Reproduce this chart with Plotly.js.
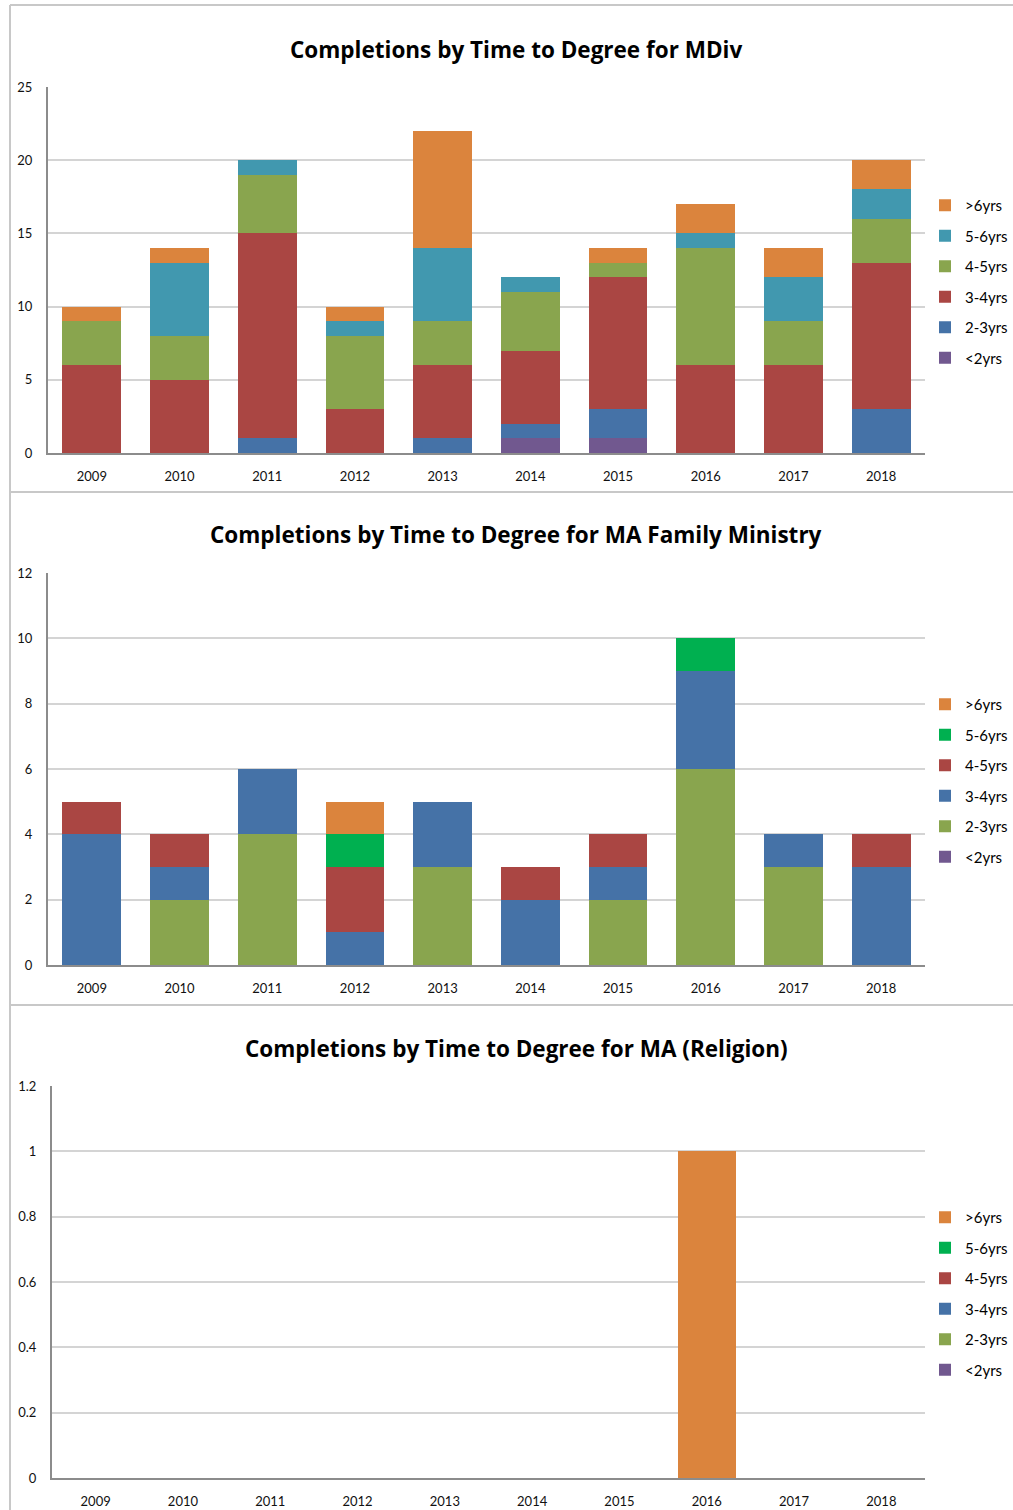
<!DOCTYPE html>
<html>
<head>
<meta charset="utf-8">
<script src="https://cdn.plot.ly/plotly-3.0.1.min.js"></script>
<style>html,body{margin:0;padding:0;background:#fff}#chart{width:1013px;height:1510px}</style>
</head>
<body>
<div id="chart"></div>
<script>
// ---- data ----
const years = ['2009','2010','2011','2012','2013','2014','2015','2016','2017','2018'];
const seriesNames = ['<2yrs','2-3yrs','3-4yrs','4-5yrs','5-6yrs','>6yrs'];

// Chart 1: MDiv
const mdivTitle = 'Completions by Time to Degree for MDiv';
const mdivLt2   = [0,0,0,0,0,1,1,0,0,0];
const mdiv2to3  = [0,0,1,0,1,1,2,0,0,3];
const mdiv3to4  = [6,5,14,3,5,5,9,6,6,10];
const mdiv4to5  = [3,3,4,5,3,4,1,8,3,3];
const mdiv5to6  = [0,5,1,1,5,1,0,1,3,2];
const mdivGt6   = [1,1,0,1,8,0,1,2,2,2];
const mdivYTicks = [0,5,10,15,20,25];

// Chart 2: MA Family Ministry
const famTitle = 'Completions by Time to Degree for MA Family Ministry';
const famLt2   = [0,0,0,0,0,0,0,0,0,0];
const fam2to3  = [0,2,4,0,3,0,2,6,3,0];
const fam3to4  = [4,1,2,1,2,2,1,3,1,3];
const fam4to5  = [1,1,0,2,0,1,1,0,0,1];
const fam5to6  = [0,0,0,1,0,0,0,1,0,0];
const famGt6   = [0,0,0,1,0,0,0,0,0,0];
const famYTicks = [0,2,4,6,8,10,12];

// Chart 3: MA (Religion)
const relTitle = 'Completions by Time to Degree for MA (Religion)';
const relLt2   = [0,0,0,0,0,0,0,0,0,0];
const rel2to3  = [0,0,0,0,0,0,0,0,0,0];
const rel3to4  = [0,0,0,0,0,0,0,0,0,0];
const rel4to5  = [0,0,0,0,0,0,0,0,0,0];
const rel5to6  = [0,0,0,0,0,0,0,0,0,0];
const relGt6   = [0,0,0,0,0,0,0,1,0,0];
const relYTicks = [0,0.2,0.4,0.6,0.8,1,1.2];
const relYTickText = ['0','0.2','0.4','0.6','0.8','1','1.2'];

// ---- styles ----
const colors1 = ['#71588F','#4572A7','#AA4643','#89A54E','#4198AF','#DB843D'];
const colors2 = ['#71588F','#89A54E','#4572A7','#AA4643','#00B050','#DB843D'];

const W = 1013, H = 1510;
const px = x => x / W;
const py = y => 1 - y / H;

const charts = [
  {title: mdivTitle, data: [mdivLt2,mdiv2to3,mdiv3to4,mdiv4to5,mdiv5to6,mdivGt6], colors: colors1,
   x0: 48, x1: 925, yTop: 87, yBot: 453, ticks: mdivYTicks, tickText: mdivYTicks.map(String), range: [0,25], titleY: 50, legTop: 189},
  {title: famTitle, data: [famLt2,fam2to3,fam3to4,fam4to5,fam5to6,famGt6], colors: colors2,
   x0: 48, x1: 925, yTop: 573, yBot: 965, ticks: famYTicks, tickText: famYTicks.map(String), range: [0,12], titleY: 535, legTop: 688},
  {title: relTitle, data: [relLt2,rel2to3,rel3to4,rel4to5,rel5to6,relGt6], colors: colors2,
   x0: 52, x1: 925, yTop: 1086, yBot: 1478, ticks: relYTicks, tickText: relYTickText, range: [0,1.2], titleY: 1048, legTop: 1201}
];

const tickFont = {size: 13, color: '#111', family: 'Lato, sans-serif'};
const traces = [];
const layout = {
  width: W, height: H,
  margin: {l:0, r:0, t:0, b:0},
  paper_bgcolor: '#fff', plot_bgcolor: '#fff',
  barmode: 'stack', bargap: 0.33,
  showlegend: true,
  font: {family: 'Lato, "Noto Sans", sans-serif', color: '#222'},
  annotations: [], shapes: []
};

charts.forEach((c, i) => {
  const n = i === 0 ? '' : String(i + 1);
  const xa = 'x' + n, ya = 'y' + n;
  const legName = 'legend' + n;
  c.data.forEach((vals, k) => {
    traces.push({
      type: 'bar', x: years, y: vals, name: seriesNames[k],
      xaxis: xa, yaxis: ya, legend: legName, legendgroup: 'g' + i + '_' + k,
      legendrank: 100 - k,
      marker: {color: c.colors[k], line: {width: 0}},
      hoverinfo: 'x+y+name'
    });
  });
  layout['xaxis' + n] = {
    domain: [px(c.x0), px(c.x1)], anchor: ya,
    type: 'category', showgrid: false, zeroline: false,
    showline: true, linecolor: '#8c8c8c', linewidth: 2,
    ticks: 'outside', ticklen: 10, tickcolor: 'rgba(0,0,0,0)',
    tickfont: tickFont, fixedrange: true
  };
  layout['yaxis' + n] = {
    domain: [py(c.yBot), py(c.yTop)], anchor: xa,
    range: c.range, tickmode: 'array', tickvals: c.ticks, ticktext: c.tickText,
    showgrid: true, gridcolor: '#d4d4d4', gridwidth: 2, zeroline: false,
    showline: true, linecolor: '#8c8c8c', linewidth: 2,
    ticks: 'outside', ticklen: 11, tickcolor: 'rgba(0,0,0,0)',
    tickfont: tickFont, fixedrange: true
  };
  layout[legName] = {
    x: px(925), y: py(c.legTop), xanchor: 'left', yanchor: 'top',
    traceorder: 'grouped', tracegroupgap: 8,
    font: {size: 15, color: '#000', family: 'Lato, sans-serif'},
    bgcolor: 'rgba(0,0,0,0)', itemwidth: 30, itemclick: false, itemdoubleclick: false
  };
  layout.annotations.push({
    text: '<b>' + c.title + '</b>', xref: 'paper', yref: 'paper',
    x: px(516), y: py(c.titleY), xanchor: 'center', yanchor: 'middle',
    showarrow: false, font: {size: 22.5, color: '#000', family: '"Open Sans", "Noto Sans", sans-serif'}
  });
});

// panel borders
const bc = '#c8c8c8';
[5, 492, 1005].forEach(y => layout.shapes.push({
  type: 'line', xref: 'paper', yref: 'paper', x0: px(10), x1: 1, y0: py(y), y1: py(y),
  line: {color: bc, width: 2}
}));
layout.shapes.push({type: 'line', xref: 'paper', yref: 'paper', x0: px(10), x1: px(10), y0: py(5), y1: 0,
  line: {color: bc, width: 2}});

Plotly.newPlot('chart', traces, layout, {displayModeBar: false});
</script>
</body>
</html>
